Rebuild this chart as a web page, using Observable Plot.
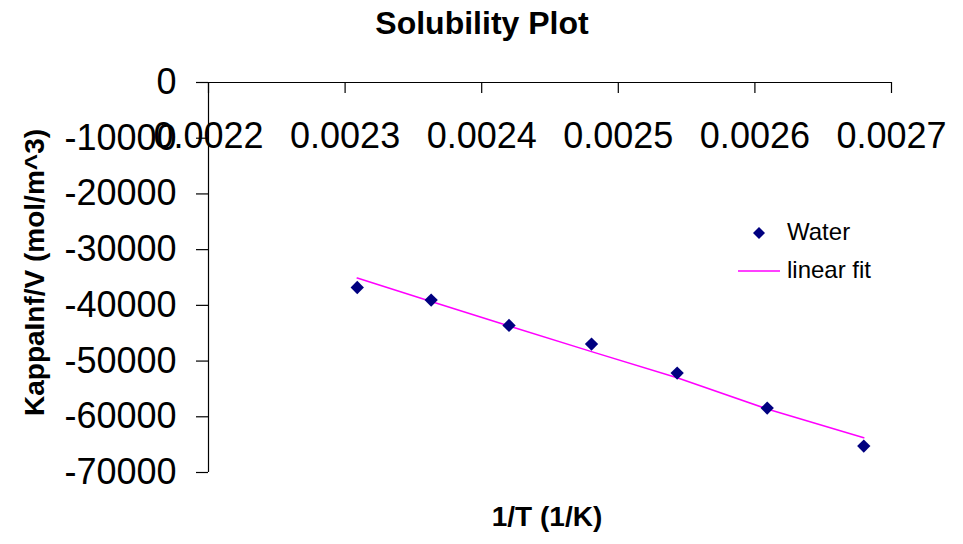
<!DOCTYPE html>
<html><head><meta charset="utf-8">
<script src="https://cdn.jsdelivr.net/npm/d3@7"></script>
<script src="https://cdn.jsdelivr.net/npm/@observablehq/plot@0.6"></script>
<style>
body{margin:0;background:#fff;font-family:"Liberation Sans",Arial,sans-serif;}
#wrap{position:relative;width:963px;height:544px;}
#title{position:absolute;left:332px;width:300px;top:7px;text-align:center;font-size:32px;line-height:32px;font-weight:bold;color:#000;}
.leg{position:absolute;font-size:24px;line-height:24px;color:#000;white-space:nowrap;}
#legsvg{position:absolute;left:0;top:0;}
</style></head><body>
<div id="wrap">
<div id="chart"></div>
<div id="title">Solubility Plot</div>
<svg id="legsvg" width="963" height="544" style="pointer-events:none">
  <path d="M759,227L765,233L759,239L753,233Z" fill="#000080"/>
  <line x1="738" x2="780" y1="271" y2="271" stroke="#FF00FF" stroke-width="1.5"/>
</svg>
<div class="leg" style="left:787px;top:220px;">Water</div>
<div class="leg" style="left:787px;top:258px;">linear fit</div>
</div>
<script>
const invT = [0.0023089, 0.0023630, 0.0024200, 0.0024804, 0.0025431, 0.0026090, 0.0026797];
const kappaWater = [-36800, -39050, -43600, -46950, -52150, -58440, -65260];
const linearFit = [-35100, -39300, -43700, -48300, -53000, -58600, -63770];
const xTicks = [0.0022, 0.0023, 0.0024, 0.0025, 0.0026, 0.0027];
const yTicks = [0, -10000, -20000, -30000, -40000, -50000, -60000, -70000];
const xLabel = "1/T (1/K)";
const yLabel = "KappaInf/V (mol/m^3)";

const rows = invT.map((x, i) => ({x, water: kappaWater[i], fit: linearFit[i]}));

const chart = Plot.plot({
  width: 963, height: 544,
  marginLeft: 208, marginRight: 72, marginTop: 82, marginBottom: 72,
  x: {domain: [xTicks[0], xTicks[xTicks.length - 1]], axis: null},
  y: {domain: [yTicks[yTicks.length - 1], yTicks[0]]},
  style: {fontFamily: "Liberation Sans, Arial, sans-serif", background: "white", color: "black", overflow: "visible"},
  marks: [
    Plot.ruleY([0], {stroke: "black", strokeWidth: 1.2}),
    Plot.ruleX([xTicks[0]], {stroke: "black", strokeWidth: 1.2}),
    Plot.ruleX(xTicks, {x: d => d, y1: () => 0, y2: () => 0, insetBottom: -11, stroke: "black", strokeWidth: 1.2}),
    Plot.text(xTicks, {x: d => d, y: () => 0, text: d => String(d), dy: 54, fontSize: 36, fill: "black"}),
    Plot.axisY({ticks: yTicks, tickSize: 12, tickPadding: 20, fontSize: 36, tickFormat: d => String(d), label: null, strokeWidth: 1.2}),
    Plot.line(rows, {x: "x", y: "fit", stroke: "#FF00FF", strokeWidth: 1.5}),
    Plot.dot(rows, {x: "x", y: "water", symbol: "diamond2", fill: "#000080", r: 6}),
    Plot.text([xLabel], {frameAnchor: "bottom", text: d => d, dx: -3, dy: 53, fontSize: 28, fontWeight: "bold", fill: "black"}),
    Plot.text([yLabel], {frameAnchor: "left", textAnchor: "middle", text: d => d, rotate: -90, dx: -173, dy: -5, fontSize: 28, fontWeight: "bold", fill: "black"})
  ]
});
document.getElementById("chart").appendChild(chart);
</script>
</body></html>
